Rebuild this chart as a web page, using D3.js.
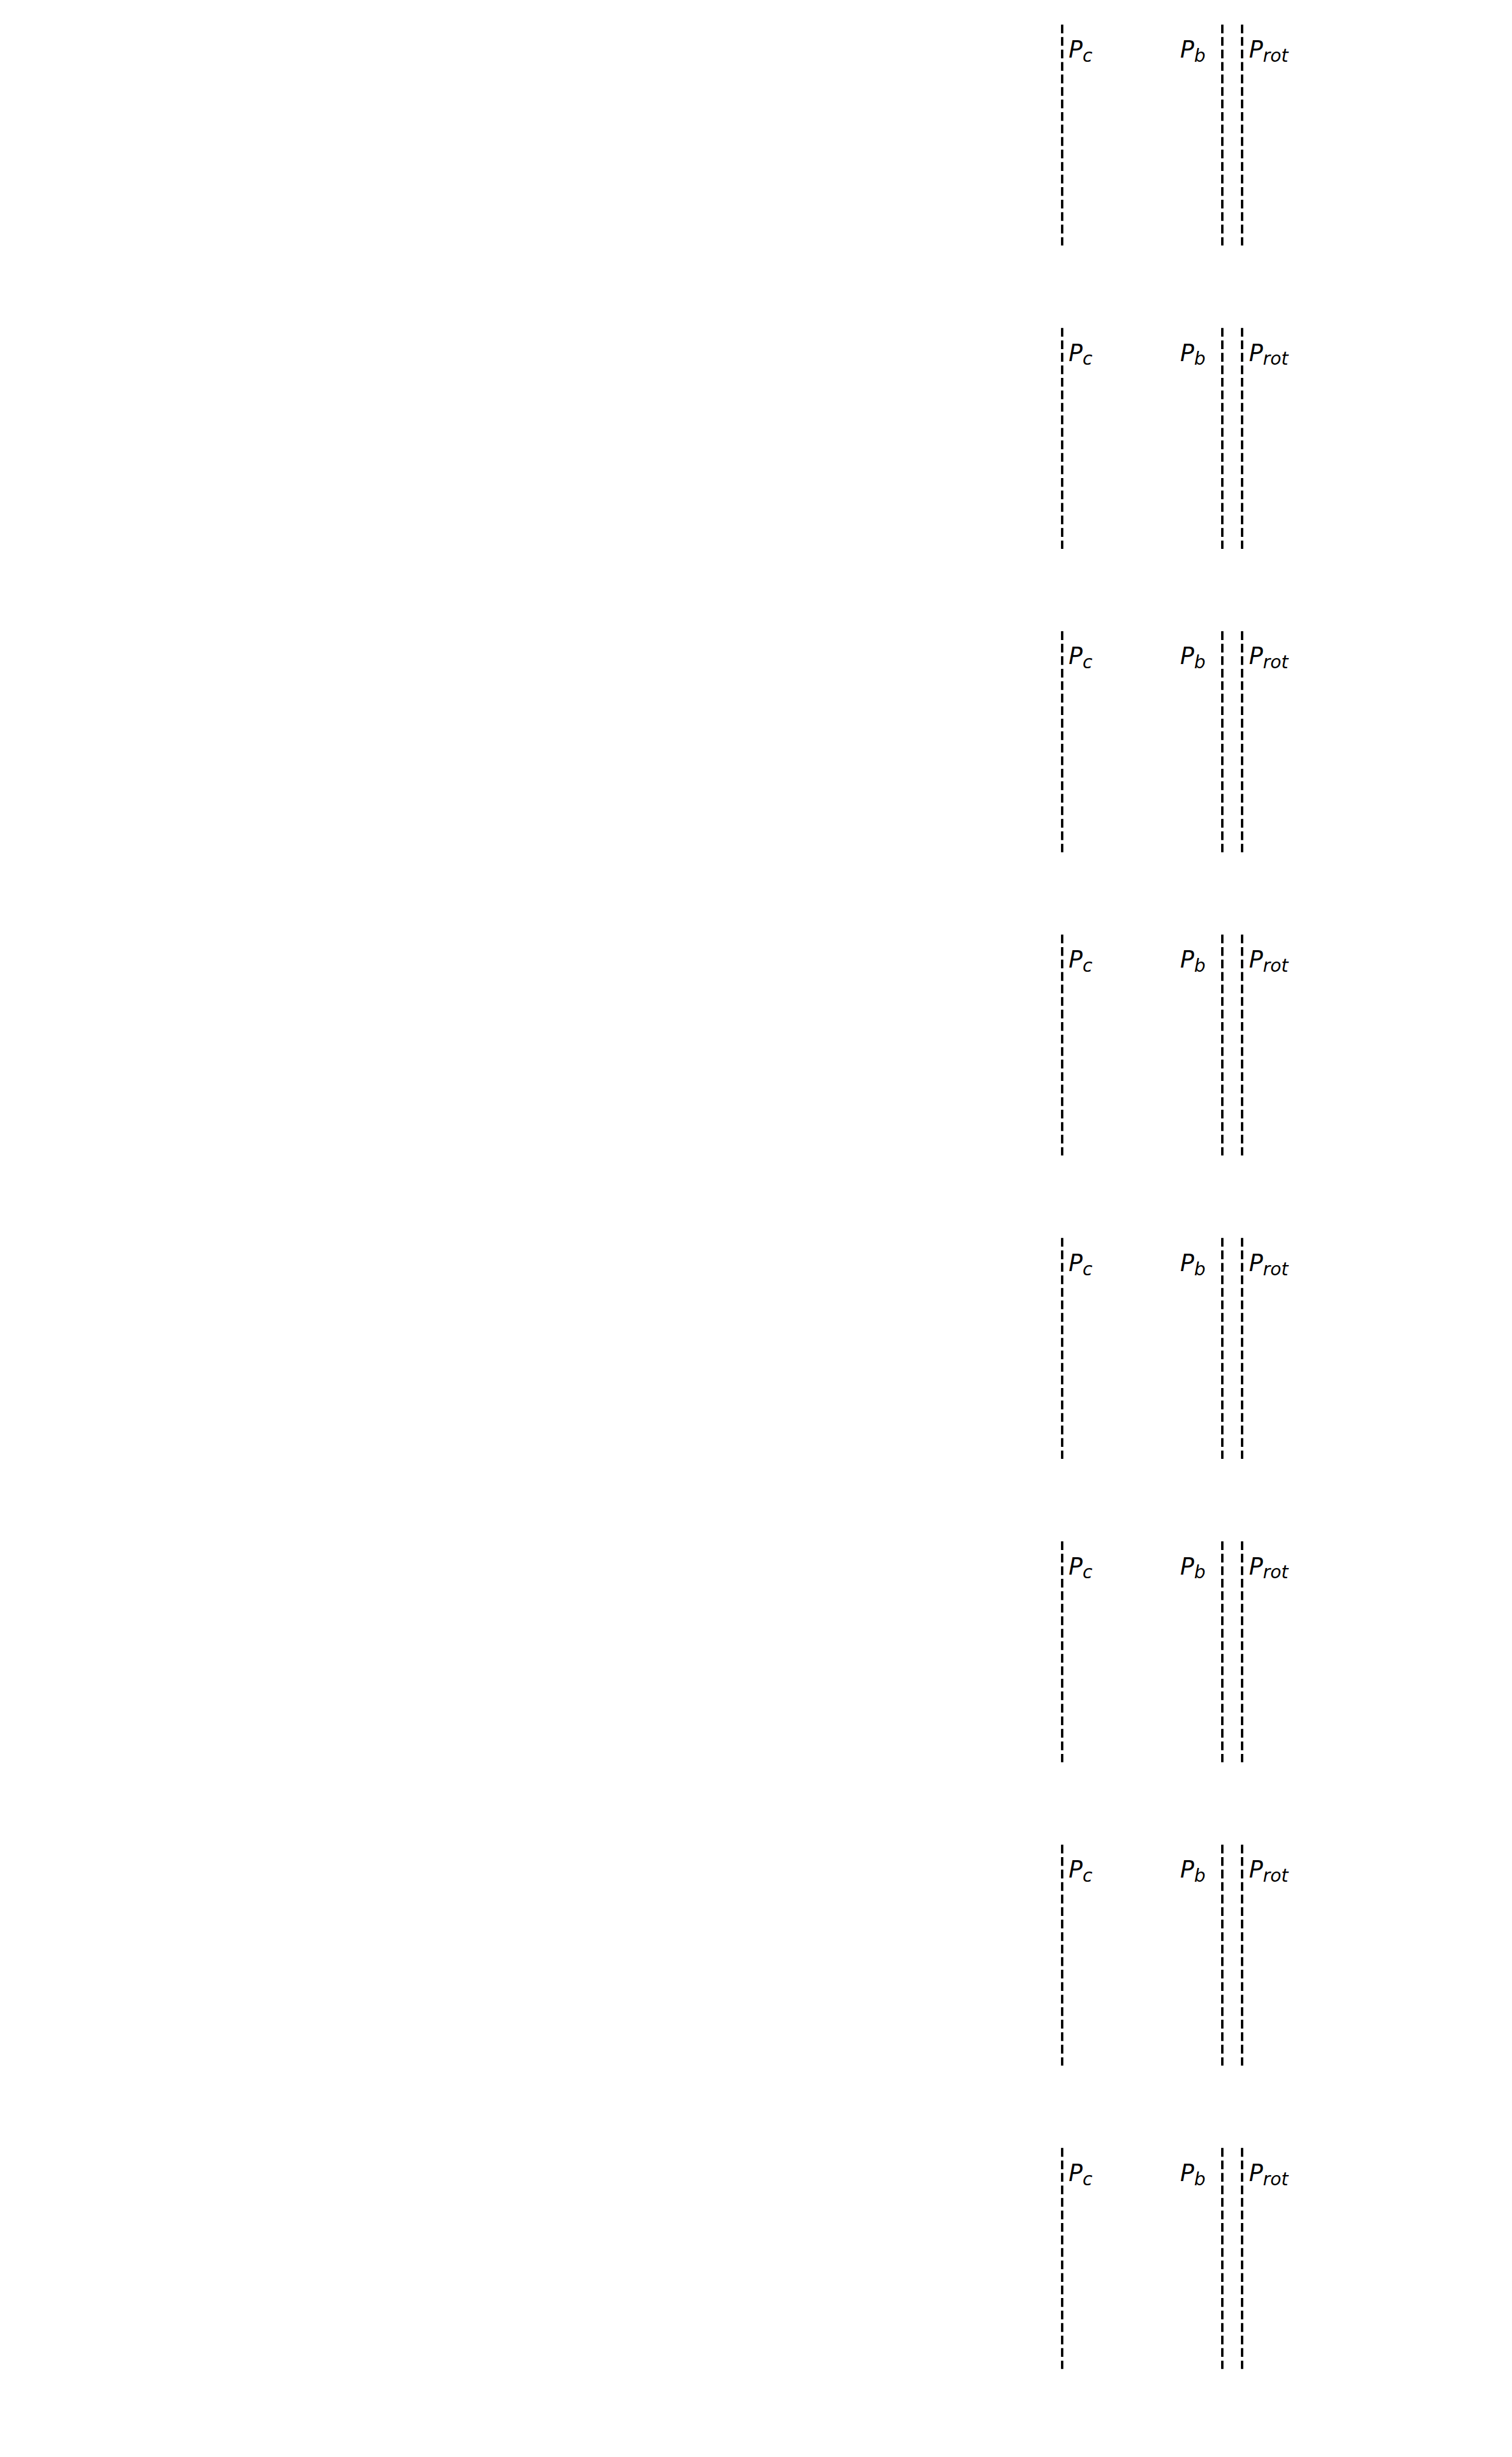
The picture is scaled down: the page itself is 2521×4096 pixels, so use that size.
<!DOCTYPE html>
<html>
<head>
<meta charset="utf-8">
<script src="https://cdn.jsdelivr.net/npm/d3@7"></script>
<style>
  html, body { margin: 0; padding: 0; background: #ffffff; }
  svg { display: block; }
</style>
</head>
<body>
<script>
// ---- data ----
const panels = [0, 1, 2, 3, 4, 5, 6, 7];
const markerNames = ["P", "P", "P"];
const markerSubs = ["c", "b", "rot"];
const markerValues = [0.5, 1.0, 1.062];

// ---- layout (reference px, scaled by K) ----
const K = 0.787;
const W = 3200 * K, H = 5200 * K;
const labelStyle = [
  { anchor: "start", dx: 14 },
  { anchor: "end", dx: -36 },
  { anchor: "start", dx: 14 }
];

const svg = d3.select("body").append("svg")
  .attr("width", Math.round(W)).attr("height", Math.round(H));

const x = d3.scaleLinear().domain([-2.8088, 1.8971]).range([0, W]);
const rowTop = d3.scaleLinear().domain([0, 7]).range([52 * K, 4550 * K]);
const panelH = 468 * K;

const markers = markerValues.map((v, i) => ({ v, name: markerNames[i], sub: markerSubs[i], style: labelStyle[i] }));

const g = svg.selectAll("g.panel").data(panels).join("g")
  .attr("class", "panel")
  .attr("transform", d => `translate(0,${rowTop(d)})`);

g.each(function () {
  const y = d3.scaleLinear().domain([0, 1]).range([0, panelH]);
  const p = d3.select(this);
  p.selectAll("line.m").data(markers).join("line")
    .attr("class", "m")
    .attr("x1", d => Math.round(x(d.v))).attr("x2", d => Math.round(x(d.v)))
    .attr("y1", y(0)).attr("y2", y(1))
    .attr("stroke", "#000")
    .attr("stroke-width", 4)
    .attr("stroke-dasharray", `${18.5 * K} ${8 * K}`);

  const t = p.selectAll("text.lab").data(markers).join("text")
    .attr("class", "lab")
    .attr("x", d => x(d.v) + d.style.dx * K)
    .attr("y", 70 * K)
    .attr("text-anchor", d => d.style.anchor)
    .attr("font-family", "DejaVu Sans")
    .attr("font-style", "italic")
    .attr("fill", "#000");
  t.append("tspan").attr("font-size", 49 * K).text(d => d.name);
  t.append("tspan").attr("font-size", 38 * K).attr("dy", 8.5 * K).text(d => d.sub);
});
</script>
</body>
</html>
